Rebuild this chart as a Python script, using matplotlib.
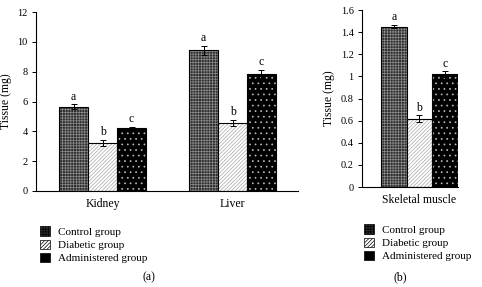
import matplotlib
matplotlib.use("Agg")
import matplotlib.pyplot as plt
from matplotlib.patches import Patch
import numpy as np

plt.rcParams["font.family"] = ["Liberation Serif", "DejaVu Serif"]
plt.rcParams["hatch.linewidth"] = 0.5

# --- data ---
groups = ["Control group", "Diabetic group", "Administered group"]
organs_a = ["Kidney", "Liver"]
means_a = [[5.65, 9.45], [3.2, 4.55], [4.2, 7.85]]
errs_a = [[0.15, 0.3], [0.2, 0.2], [0.12, 0.25]]
means_b = [1.45, 0.62, 1.02]
errs_b = [0.015, 0.03, 0.025]
letters = ["a", "b", "c"]

# fill, hatch, hatch colour per group
styles = [("#2e2e2e", "++++++", "#8c8c8c"),
          ("white", "/////////", "#a8a8a8"),
          ("black", "...", "#bdbdbd")]


def draw_bar(ax, x, h, w, st):
    fc, hatch, hc = st
    ax.bar(x, h, w, color=fc, hatch=hatch, edgecolor=hc, linewidth=0)
    ax.bar(x, h, w, fill=False, edgecolor="black", linewidth=0.8)


def style_axis(ax):
    ax.spines["top"].set_visible(False)
    ax.spines["right"].set_visible(False)
    ax.spines["left"].set_linewidth(0.8)
    ax.spines["bottom"].set_linewidth(0.8)
    ax.tick_params(axis="y", labelsize=7.5, length=3, width=0.7, pad=3)
    ax.tick_params(axis="x", length=0, labelsize=8.5, pad=5)
    ax.set_ylabel("Tissue (mg)", fontsize=8.5, labelpad=4)


fig = plt.figure(figsize=(4.82, 2.87), dpi=100)

# --- panel (a) ---
ax1 = fig.add_axes([0.0747, 0.3345, 0.5436, 0.6236])
w = 0.223
x = np.arange(len(organs_a))
for i in range(3):
    xi = x + (i - 1) * w
    for j in range(len(organs_a)):
        draw_bar(ax1, xi[j], means_a[i][j], w, styles[i])
        ax1.errorbar(xi[j], means_a[i][j], yerr=errs_a[i][j], fmt="none",
                     ecolor="black", elinewidth=0.7, capsize=2.5,
                     capthick=0.7)
        ax1.text(xi[j], means_a[i][j] + errs_a[i][j] + 0.12, letters[i],
                 ha="center", va="bottom", fontsize=8.5)
ax1.set_xlim(-0.512, 1.504)
ax1.set_ylim(0, 12)
ax1.set_yticks(range(0, 13, 2))
ax1.set_xticks(x)
ax1.set_xticklabels(organs_a)
style_axis(ax1)

# --- panel (b) ---
ax2 = fig.add_axes([0.751, 0.348, 0.199, 0.617])
xb = np.array([-1, 0, 1])
for i in range(3):
    draw_bar(ax2, xb[i], means_b[i], 1.0, styles[i])
    ax2.errorbar(xb[i], means_b[i], yerr=errs_b[i], fmt="none",
                 ecolor="black", elinewidth=0.7, capsize=2.5, capthick=0.7)
    ax2.text(xb[i], means_b[i] + errs_b[i] + 0.015, letters[i],
             ha="center", va="bottom", fontsize=8.5)
ax2.set_xlim(-2.24, 1.5)
ax2.set_ylim(0, 1.6)
ax2.set_yticks(np.arange(0, 1.61, 0.2))
ax2.set_yticklabels(["0", "0.2", "0.4", "0.6", "0.8", "1", "1.2", "1.4", "1.6"])
ax2.set_xticks([0])
ax2.set_xticklabels(["Skeletal muscle"])
style_axis(ax2)

# --- legends ---
handles = [Patch(facecolor=s[0], hatch=s[1], edgecolor="black", linewidth=0.5)
           for s in styles]
leg_kw = dict(frameon=False, fontsize=8, handlelength=0.9, handleheight=0.9,
              handletextpad=0.7, labelspacing=0.25, borderaxespad=0)
fig.legend(handles, groups, loc="upper left",
           bbox_to_anchor=(36 / 482, 1 - 222 / 287), **leg_kw)
fig.legend(handles, groups, loc="upper left",
           bbox_to_anchor=(360 / 482, 1 - 220 / 287), **leg_kw)

fig.text(149 / 482, 1 - 277 / 287, "(a)", ha="center", va="center", fontsize=8.5)
fig.text(400 / 482, 1 - 277 / 287, "(b)", ha="center", va="center", fontsize=8.5)

fig.savefig("out.png", dpi=100)
